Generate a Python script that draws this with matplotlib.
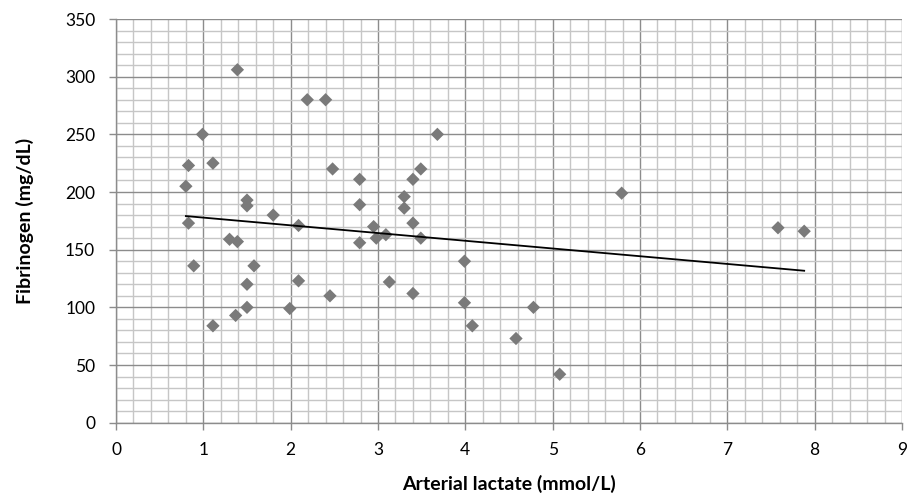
import numpy as np
import matplotlib
matplotlib.use("Agg")
import matplotlib.pyplot as plt
from matplotlib.ticker import MultipleLocator

# Arterial lactate (mmol/L) vs fibrinogen (mg/dL)
lactate = [0.80, 0.83, 0.83, 0.89, 0.99, 1.11, 1.11, 1.30, 1.37, 1.39, 1.39,
           1.50, 1.50, 1.50, 1.50, 1.58, 1.80, 1.99, 2.09, 2.09, 2.19, 2.40,
           2.45, 2.48, 2.79, 2.79, 2.79, 2.95, 2.98, 3.09, 3.13, 3.30, 3.30,
           3.40, 3.40, 3.40, 3.49, 3.49, 3.68, 3.99, 3.99, 4.08, 4.58, 4.78,
           5.08, 5.79, 7.58, 7.88]
fibrinogen = [205, 223, 173, 136, 250, 225, 84, 159, 93, 306, 157,
              193, 188, 120, 100, 136, 180, 99, 171, 123, 280, 280,
              110, 220, 211, 189, 156, 170, 160, 163, 122, 196, 186,
              211, 173, 112, 220, 160, 250, 140, 104, 84, 73, 100,
              42, 199, 169, 166]

x_ticks = list(range(0, 10))
y_ticks = list(range(0, 351, 50))

font = ["Lato", "DejaVu Sans"]

fig = plt.figure(figsize=(9.07, 4.97), dpi=100)
ax = fig.add_axes([116 / 907, 1 - 422.7 / 497, (902 - 116) / 907, (422.7 - 19) / 497])

ax.set_xlim(0, 9)
ax.set_ylim(0, 350)
ax.xaxis.set_minor_locator(MultipleLocator(0.2))
ax.yaxis.set_minor_locator(MultipleLocator(10))
ax.set_xticks(x_ticks)
ax.set_yticks(y_ticks)

ax.grid(which="minor", color="#c6c6c6", linewidth=1.0, zorder=0)
ax.grid(which="major", color="#8c8c8c", linewidth=1.0, zorder=0.5)
ax.set_axisbelow(True)

for side in ("top", "right"):
    ax.spines[side].set_visible(False)
for side in ("left", "bottom"):
    ax.spines[side].set_color("#8c8c8c")
    ax.spines[side].set_linewidth(1.0)

ax.tick_params(axis="x", which="major", length=5, width=1, color="#8c8c8c",
               labelsize=12.5, labelcolor="#000000", pad=9)
ax.tick_params(axis="y", which="major", length=5, width=1, color="#8c8c8c",
               labelsize=12.5, labelcolor="#000000", pad=10)
ax.tick_params(which="minor", length=0)

for lbl in ax.get_xticklabels() + ax.get_yticklabels():
    lbl.set_family(font)

ax.scatter(lactate, fibrinogen, marker="D", s=46, color="#7a7a7a",
           edgecolors="none", zorder=3)

# Linear trendline over the observed lactate range
slope, intercept = np.polyfit(lactate, fibrinogen, 1)
xs = np.array([min(lactate), max(lactate)])
ax.plot(xs, slope * xs + intercept, color="#000000", linewidth=1.3, zorder=4)

ax.set_xlabel("Arterial lactate (mmol/L)", fontsize=14, fontweight="bold",
              family=font, labelpad=12)
ax.set_ylabel("Fibrinogen (mg/dL)", fontsize=14, fontweight="bold",
              family=font, labelpad=22)

fig.savefig("out.png", dpi=100)
